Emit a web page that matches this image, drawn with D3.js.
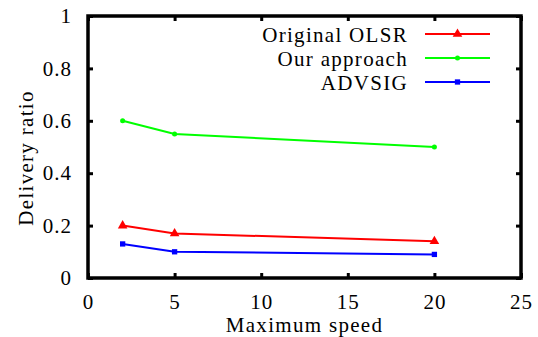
<!DOCTYPE html>
<html>
<head>
<meta charset="utf-8">
<script src="https://cdn.jsdelivr.net/npm/d3@7"></script>
<style>
  body { margin: 0; background: #fff; }
</style>
</head>
<body>
<script>
// data
var speeds = [2, 5, 20];
var olsrValues = [0.20, 0.17, 0.14];
var oursValues = [0.60, 0.55, 0.50];
var advsigValues = [0.13, 0.10, 0.09];
var seriesNames = ["Original OLSR", "Our approach", "ADVSIG"];
var xTicks = [0, 5, 10, 15, 20, 25];
var yTicks = [0, 0.2, 0.4, 0.6, 0.8, 1];

var serif = "'Liberation Serif', 'Times New Roman', Georgia, serif";

var screen = { width: 538, height: 337 };
var margins = { left: 88, top: 16, right: 17, bottom: 59 };
var width = screen.width - margins.left - margins.right;
var height = screen.height - margins.top - margins.bottom;

var xScale = d3.scaleLinear().domain([0, 25]).range([margins.left, margins.left + width]);
var yScale = d3.scaleLinear().domain([0, 1]).range([margins.top + height, margins.top]);

var svg = d3.select("body").append("svg")
            .attr("width", screen.width)
            .attr("height", screen.height)
            .style("font-family", serif);

var series = [
  { name: seriesNames[0], values: olsrValues, color: "#ff0000", marker: d3.symbolTriangle, size: 40 },
  { name: seriesNames[1], values: oursValues, color: "#00ff00", marker: d3.symbolCircle, size: 20 },
  { name: seriesNames[2], values: advsigValues, color: "#0000ff", marker: d3.symbolSquare, size: 28 }
];

// axes with inward ticks on all four sides
var tickFmt = function(d) { return d3.format("")(+d.toFixed(1)); };

svg.append("g")
   .attr("class", "xAxis")
   .attr("transform", "translate(0," + (margins.top + height) + ")")
   .call(d3.axisBottom(xScale).tickValues(xTicks).tickSize(-5).tickPadding(16))
   .call(function(g) { g.select(".domain").remove(); });

svg.append("g")
   .attr("class", "xAxisTop")
   .attr("transform", "translate(0," + margins.top + ")")
   .call(d3.axisTop(xScale).tickValues(xTicks).tickSize(-5).tickFormat(""))
   .call(function(g) { g.select(".domain").remove(); });

svg.append("g")
   .attr("class", "yAxis")
   .attr("transform", "translate(" + margins.left + ",0)")
   .call(d3.axisLeft(yScale).tickValues(yTicks).tickSize(-5).tickPadding(16).tickFormat(tickFmt))
   .call(function(g) { g.select(".domain").remove(); });

svg.append("g")
   .attr("class", "yAxisRight")
   .attr("transform", "translate(" + (margins.left + width) + ",0)")
   .call(d3.axisRight(yScale).tickValues(yTicks).tickSize(-5).tickFormat(""))
   .call(function(g) { g.select(".domain").remove(); });

svg.selectAll("g").attr("font-family", null);
svg.selectAll(".tick line").attr("stroke", "#000").attr("stroke-width", 3);
svg.selectAll(".xAxis text, .yAxis text")
   .style("font-family", serif)
   .attr("font-size", 21)
   .attr("letter-spacing", 1)
   .attr("fill", "#000");

// frame
svg.append("rect")
   .attr("x", margins.left)
   .attr("y", margins.top)
   .attr("width", width)
   .attr("height", height)
   .attr("fill", "none")
   .attr("stroke", "#000")
   .attr("stroke-width", 3.5);

// lines
var drawLine = d3.line()
                 .x(function(d, i) { return xScale(speeds[i]); })
                 .y(function(d) { return yScale(d); });

series.forEach(function(s) {
  svg.append("path")
     .datum(s.values)
     .attr("d", drawLine)
     .attr("fill", "none")
     .attr("stroke", s.color)
     .attr("stroke-width", 2);

  svg.append("g")
     .selectAll("path")
     .data(s.values)
     .enter()
     .append("path")
     .attr("d", d3.symbol().type(s.marker).size(s.size))
     .attr("transform", function(d, i) { return "translate(" + xScale(speeds[i]) + "," + yScale(d) + ")"; })
     .attr("fill", s.color);
});

// legend
var legend = svg.append("g").attr("class", "legend");
series.forEach(function(s, i) {
  var y = 34 + i * 24;
  legend.append("text")
        .attr("x", 408)
        .attr("y", y + 7.5)
        .attr("text-anchor", "end")
        .style("font-family", serif)
        .attr("font-size", 21)
        .attr("letter-spacing", 1.3)
        .text(s.name);
  legend.append("line")
        .attr("x1", 425).attr("x2", 490)
        .attr("y1", y).attr("y2", y)
        .attr("stroke", s.color)
        .attr("stroke-width", 2);
  legend.append("path")
        .attr("d", d3.symbol().type(s.marker).size(s.size))
        .attr("transform", "translate(457.5," + y + ")")
        .attr("fill", s.color);
});

// axis titles
svg.append("text")
   .attr("x", xScale(12.5))
   .attr("y", 332)
   .attr("text-anchor", "middle")
   .style("font-family", serif)
   .attr("font-size", 21)
   .attr("letter-spacing", 1.3)
   .text("Maximum speed");

svg.append("text")
   .attr("transform", "translate(33,158) rotate(-90)")
   .attr("text-anchor", "middle")
   .style("font-family", serif)
   .attr("font-size", 21)
   .attr("letter-spacing", 1.3)
   .text("Delivery ratio");
</script>
</body>
</html>
